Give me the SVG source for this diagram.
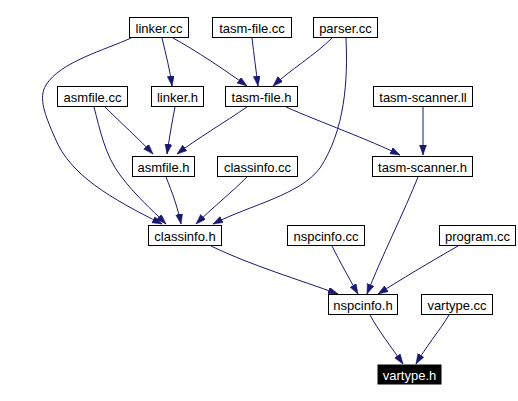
<svg xmlns="http://www.w3.org/2000/svg" width="518" height="401" viewBox="0 0 518 401">
<style>
.n rect{fill:#fff;stroke:#000;stroke-width:1}
.n text{font-family:"Liberation Sans",Arial,sans-serif;font-size:13px;text-anchor:middle;fill:#000}
#vartype_h rect{fill:#000}
#vartype_h text{fill:#fff}
.e path{fill:none;stroke:#191970;stroke-width:1;marker-end:url(#ah)}
</style>
<defs>
<marker id="ah" markerUnits="userSpaceOnUse" markerWidth="11" markerHeight="8" refX="10" refY="3.5" orient="auto">
<path d="M0,0 L10,3.5 L0,7 z" fill="#191970" stroke="#191970" stroke-width="0.5"/>
</marker>
</defs>
<rect width="518" height="401" fill="#fff"/>
<g id="edges" class="e">
<path d="M162,38 C166,55 170,70 172,86"/>
<path d="M173,38 C195,50 225,70 247,86"/>
<path d="M131,38 C105,50 60,62 46,85 C38,98 45,115 55,138 C70,175 110,198 162,224"/>
<path d="M252,38 C254,55 256,70 258,86"/>
<path d="M332,38 C315,55 290,70 273,86"/>
<path d="M346,38 C348,80 345,130 320,168 C300,195 250,205 213,224"/>
<path d="M105,107 C120,122 140,140 153,154"/>
<path d="M94,107 C100,130 105,155 120,175 C135,195 150,208 166,224"/>
<path d="M175,107 C172,122 169,140 167,154"/>
<path d="M247,107 C225,122 195,140 177,154"/>
<path d="M286,107 C320,122 370,140 400,155"/>
<path d="M423,107 L423,155"/>
<path d="M166,177 C172,192 178,208 181,224"/>
<path d="M247,177 C232,192 210,210 196,224"/>
<path d="M418,177 C405,210 380,260 367,294"/>
<path d="M211,246 C250,265 300,280 338,294"/>
<path d="M332,246 C340,262 350,280 358,294"/>
<path d="M458,246 C430,262 400,280 378,294"/>
<path d="M370,315 C378,330 392,348 403,364"/>
<path d="M449,315 C440,330 425,348 416,364"/>
</g>
<g id="linker_cc" class="n"><rect x="129.5" y="17.5" width="59" height="20"/><text x="159" y="33">linker.cc</text></g>
<g id="tasm_file_cc" class="n"><rect x="212.5" y="17.5" width="79" height="20"/><text x="252" y="33">tasm-file.cc</text></g>
<g id="parser_cc" class="n"><rect x="313.5" y="17.5" width="64" height="20"/><text x="345.5" y="33">parser.cc</text></g>
<g id="asmfile_cc" class="n"><rect x="57.5" y="86.5" width="70" height="20"/><text x="92.5" y="102">asmfile.cc</text></g>
<g id="linker_h" class="n"><rect x="151.5" y="86.5" width="52" height="20"/><text x="177.5" y="102">linker.h</text></g>
<g id="tasm_file_h" class="n"><rect x="225.5" y="86.5" width="72" height="20"/><text x="261.5" y="102">tasm-file.h</text></g>
<g id="tasm_scanner_ll" class="n"><rect x="373.5" y="86.5" width="99" height="20"/><text x="423" y="102">tasm-scanner.ll</text></g>
<g id="asmfile_h" class="n"><rect x="132.5" y="156.5" width="62" height="20"/><text x="163.5" y="172">asmfile.h</text></g>
<g id="classinfo_cc" class="n"><rect x="217.5" y="156.5" width="80" height="20"/><text x="257.5" y="172">classinfo.cc</text></g>
<g id="tasm_scanner_h" class="n"><rect x="372.5" y="156.5" width="100" height="20"/><text x="422.5" y="172">tasm-scanner.h</text></g>
<g id="classinfo_h" class="n"><rect x="148.5" y="225.5" width="73" height="20"/><text x="185" y="241">classinfo.h</text></g>
<g id="nspcinfo_cc" class="n"><rect x="287.5" y="225.5" width="77" height="20"/><text x="326" y="241">nspcinfo.cc</text></g>
<g id="program_cc" class="n"><rect x="439.5" y="225.5" width="76" height="20"/><text x="477.5" y="241">program.cc</text></g>
<g id="nspcinfo_h" class="n"><rect x="328.5" y="294.5" width="69" height="20"/><text x="363" y="310">nspcinfo.h</text></g>
<g id="vartype_cc" class="n"><rect x="421.5" y="294.5" width="71" height="20"/><text x="457" y="310">vartype.cc</text></g>
<g id="vartype_h" class="n"><rect x="378" y="365" width="63" height="19"/><text x="409.5" y="379.5">vartype.h</text></g>
</svg>
